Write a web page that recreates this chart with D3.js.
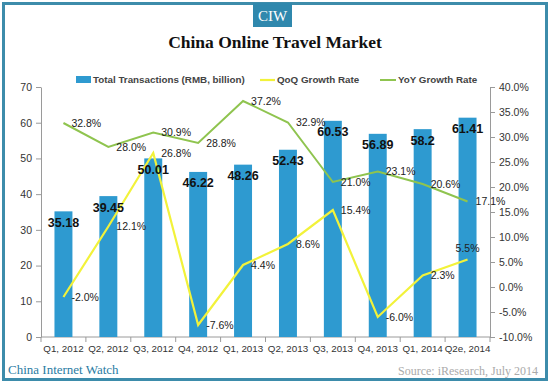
<!DOCTYPE html>
<html>
<head>
<meta charset="utf-8">
<script src="https://cdn.jsdelivr.net/npm/d3@7"></script>
<style>
  html, body { margin: 0; padding: 0; background: #fff; }
  svg { display: block; }
</style>
</head>
<body>
<div id="chart"></div>
<script>
// China online travel market: bars (left axis) + two growth lines (right axis)
const quarters = ["Q1, 2012", "Q2, 2012", "Q3, 2012", "Q4, 2012", "Q1, 2013",
  "Q2, 2013", "Q3, 2013", "Q4, 2013", "Q1, 2014", "Q2e, 2014"];
const transactions = [35.18, 39.45, 50.01, 46.22, 48.26, 52.43, 60.53, 56.89, 58.2, 61.41];
const qoqGrowth = [-2.0, 12.1, 26.8, -7.6, 4.4, 8.6, 15.4, -6.0, 2.3, 5.5];
const yoyGrowth = [32.8, 28.0, 30.9, 28.8, 37.2, 32.9, 21.0, 23.1, 20.6, 17.1];
const leftTicks = [0, 10, 20, 30, 40, 50, 60, 70];
const rightTicks = [-10, -5, 0, 5, 10, 15, 20, 25, 30, 35, 40];

const width = 550;
const height = 383;
const plot = { left: 41, right: 490, top: 87, bottom: 337 };

const barColor = "#2e9ad0";
const qoqColor = "#f2f23a";
const yoyColor = "#8fc44f";
const axisColor = "#9a9a9a";
const sans = "'Liberation Sans', Arial, sans-serif";
const serif = "'Liberation Serif', 'Times New Roman', serif";

// plain hyphen for negatives, like the original
const pct = (v) => v.toFixed(1) + "%";

const svg = d3.select("#chart").append("svg")
  .attr("width", width)
  .attr("height", height);

// frame
svg.append("rect")
  .attr("x", 3.5).attr("y", 3.5)
  .attr("width", width - 7).attr("height", height - 7)
  .attr("fill", "#fff")
  .attr("stroke", "#3d8cab")
  .attr("stroke-width", 3);

// CIW badge
svg.append("rect")
  .attr("x", 253).attr("y", 3)
  .attr("width", 39).attr("height", 24)
  .attr("fill", "#2f88ad");
svg.append("text")
  .attr("x", 272.5).attr("y", 21)
  .attr("text-anchor", "middle")
  .attr("font-family", serif)
  .attr("font-size", 15)
  .attr("fill", "#fff")
  .text("CIW");

svg.append("text")
  .attr("x", 275).attr("y", 48)
  .attr("text-anchor", "middle")
  .attr("font-family", serif)
  .attr("font-weight", "bold")
  .attr("font-size", 17.5)
  .attr("fill", "#111")
  .text("China Online Travel Market");

const x = d3.scaleBand().domain(quarters).range([plot.left, plot.right]);
const yL = d3.scaleLinear().domain([0, 70]).range([plot.bottom, plot.top]);
const yR = d3.scaleLinear().domain([-10, 40]).range([plot.bottom, plot.top]);
const cx = (i) => x(quarters[i]) + x.bandwidth() / 2;
const barW = x.bandwidth() * 0.4;

// left axis
const gL = svg.append("g")
  .attr("transform", `translate(${plot.left},0)`)
  .call(d3.axisLeft(yL).tickValues(leftTicks).tickSize(5).tickSizeOuter(0).tickPadding(4));
// right axis
const gR = svg.append("g")
  .attr("transform", `translate(${plot.right},0)`)
  .call(d3.axisRight(yR).tickValues(rightTicks).tickSize(5).tickSizeOuter(0).tickPadding(4)
    .tickFormat(pct));

[gL, gR].forEach((g) => {
  g.selectAll("path, line").attr("stroke", axisColor);
  g.selectAll("text")
    .attr("font-family", sans)
    .attr("font-size", 10.5)
    .attr("fill", "#333");
});

// bottom axis: ticks between categories
const gB = svg.append("g");
gB.append("line")
  .attr("x1", plot.left).attr("x2", plot.right)
  .attr("y1", plot.bottom).attr("y2", plot.bottom)
  .attr("stroke", axisColor);
gB.selectAll("line.tk")
  .data(d3.range(quarters.length + 1))
  .enter().append("line")
  .attr("class", "tk")
  .attr("x1", (i) => plot.left + i * x.step())
  .attr("x2", (i) => plot.left + i * x.step())
  .attr("y1", plot.bottom).attr("y2", plot.bottom + 5)
  .attr("stroke", axisColor);
gB.selectAll("text")
  .data(quarters)
  .enter().append("text")
  .attr("x", (d) => x(d) + x.bandwidth() / 2)
  .attr("y", plot.bottom + 15)
  .attr("text-anchor", "middle")
  .attr("font-family", sans)
  .attr("font-size", 9.8)
  .attr("fill", "#333")
  .text((d) => d);

// bars
svg.append("g")
  .selectAll("rect")
  .data(transactions)
  .enter().append("rect")
  .attr("x", (d, i) => cx(i) - barW / 2)
  .attr("y", (d) => yL(d))
  .attr("width", barW)
  .attr("height", (d) => yL(0) - yL(d))
  .attr("fill", barColor);

// lines
const lineR = d3.line().x((d, i) => cx(i)).y((d) => yR(d));
svg.append("path")
  .datum(yoyGrowth)
  .attr("d", lineR)
  .attr("fill", "none")
  .attr("stroke", yoyColor)
  .attr("stroke-width", 2);
svg.append("path")
  .datum(qoqGrowth)
  .attr("d", lineR)
  .attr("fill", "none")
  .attr("stroke", qoqColor)
  .attr("stroke-width", 2.2);

// bar value labels
svg.append("g")
  .selectAll("text")
  .data(transactions)
  .enter().append("text")
  .attr("x", (d, i) => cx(i))
  .attr("y", (d) => yL(d) + 15.5)
  .attr("text-anchor", "middle")
  .attr("font-family", sans)
  .attr("font-weight", "bold")
  .attr("font-size", 12.5)
  .attr("fill", "#111")
  .text((d) => String(d));

// percent labels
const lastIdx = quarters.length - 1;
function pctLabels(values, onTopLast) {
  svg.append("g")
    .selectAll("text")
    .data(values)
    .enter().append("text")
    .attr("x", (d, i) => (onTopLast && i === lastIdx ? cx(i) : cx(i) + 8))
    .attr("y", (d, i) => (onTopLast && i === lastIdx ? yR(d) - 11.5 : yR(d)))
    .attr("dy", "0.35em")
    .attr("text-anchor", (d, i) => (onTopLast && i === lastIdx ? "middle" : "start"))
    .attr("font-family", sans)
    .attr("font-size", 10.5)
    .attr("fill", "#222")
    .text(pct);
}
pctLabels(yoyGrowth, false);
pctLabels(qoqGrowth, true);

// legend
const legend = svg.append("g")
  .attr("font-family", sans)
  .attr("font-size", 9.8)
  .attr("font-weight", "bold")
  .attr("fill", "#444");
legend.append("rect")
  .attr("x", 76).attr("y", 76)
  .attr("width", 15).attr("height", 7)
  .attr("fill", barColor);
legend.append("text").attr("x", 93).attr("y", 80).attr("dy", "0.35em")
  .text("Total Transactions (RMB, billion)");
legend.append("line")
  .attr("x1", 260).attr("x2", 275).attr("y1", 80).attr("y2", 80)
  .attr("stroke", qoqColor).attr("stroke-width", 2.2);
legend.append("text").attr("x", 277).attr("y", 80).attr("dy", "0.35em")
  .text("QoQ Growth Rate");
legend.append("line")
  .attr("x1", 380).attr("x2", 396).attr("y1", 80).attr("y2", 80)
  .attr("stroke", yoyColor).attr("stroke-width", 2);
legend.append("text").attr("x", 398).attr("y", 80).attr("dy", "0.35em")
  .text("YoY Growth Rate");

// footer
svg.append("text")
  .attr("x", 8).attr("y", 374)
  .attr("font-family", serif)
  .attr("font-size", 13)
  .attr("fill", "#2a7ca3")
  .text("China Internet Watch");
svg.append("text")
  .attr("x", 538).attr("y", 375)
  .attr("text-anchor", "end")
  .attr("font-family", serif)
  .attr("font-size", 12)
  .attr("fill", "#aaa")
  .text("Source: iResearch, July 2014");
</script>
</body>
</html>
